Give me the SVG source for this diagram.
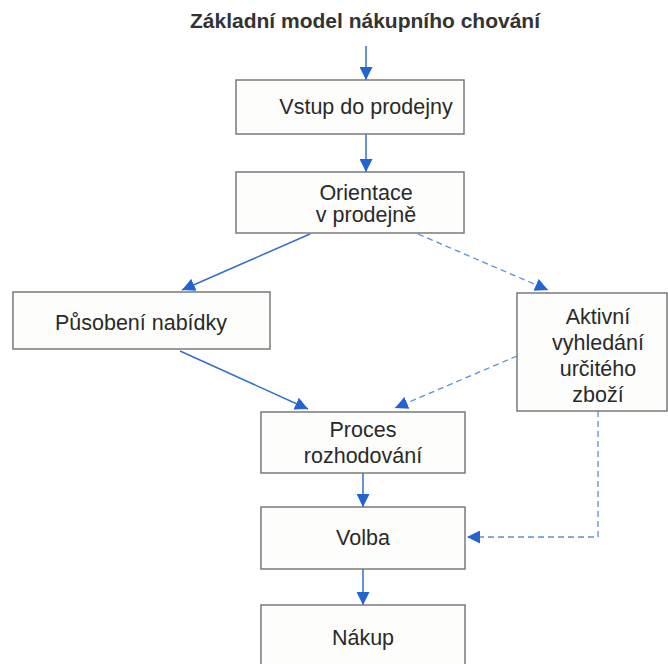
<svg xmlns="http://www.w3.org/2000/svg" width="668" height="664" viewBox="0 0 668 664">
<style>
.box{fill:#fdfdfb;stroke:#7a7a7a;stroke-width:1.5}
.t{font-family:"Liberation Sans",Arial,sans-serif;font-size:21.5px;fill:#2a2a2a;text-anchor:middle}
.title{font-family:"Liberation Sans",Arial,sans-serif;font-size:21px;font-weight:bold;fill:#333;text-anchor:middle}
.c{fill:none;stroke:#2f6fd0;stroke-width:1.5}
.d{fill:none;stroke:#5a8fdc;stroke-width:1.3;stroke-dasharray:6 4}
</style>
<defs>
<marker id="ah" viewBox="0 0 12 12" refX="12" refY="6" markerWidth="13" markerHeight="13" markerUnits="userSpaceOnUse" orient="auto">
<path d="M0,0 L12,6 L0,12 z" fill="#2464d0"/>
</marker>
</defs>
<rect width="668" height="664" fill="#ffffff"/>
<text class="title" x="365" y="28">Základní model nákupního chování</text>
<g id="connectors">
<line class="c" x1="366" y1="46" x2="366" y2="80" marker-end="url(#ah)"/>
<line class="c" x1="366" y1="134" x2="366" y2="172" marker-end="url(#ah)"/>
<line class="c" x1="310" y1="234" x2="182" y2="290" marker-end="url(#ah)"/>
<line class="d" x1="418" y1="234" x2="548" y2="290" marker-end="url(#ah)"/>
<line class="c" x1="180" y1="351" x2="308" y2="409" marker-end="url(#ah)"/>
<line class="d" x1="517" y1="356" x2="395" y2="408" marker-end="url(#ah)"/>
<line class="c" x1="363" y1="473" x2="363" y2="507" marker-end="url(#ah)"/>
<polyline class="d" points="598,411 598,537 467,537" marker-end="url(#ah)"/>
<line class="c" x1="363" y1="569" x2="363" y2="605" marker-end="url(#ah)"/>
</g>
<g id="vstup">
<rect class="box" x="236" y="80" width="228" height="54"/>
<text class="t" x="366" y="114">Vstup do prodejny</text>
</g>
<g id="orientace">
<rect class="box" x="236" y="172" width="228" height="61"/>
<text class="t" x="366" y="200">Orientace</text>
<text class="t" x="366" y="222">v prodejně</text>
</g>
<g id="pusobeni">
<rect class="box" x="13" y="292" width="257" height="57"/>
<text class="t" x="141" y="330">Působení nabídky</text>
</g>
<g id="aktivni">
<rect class="box" x="517" y="293" width="150" height="118"/>
<text class="t" x="598" y="324">Aktivní</text>
<text class="t" x="598" y="350">vyhledání</text>
<text class="t" x="598" y="376">určitého</text>
<text class="t" x="598" y="402">zboží</text>
</g>
<g id="proces">
<rect class="box" x="261" y="412" width="204" height="61"/>
<text class="t" x="363" y="437">Proces</text>
<text class="t" x="363" y="463">rozhodování</text>
</g>
<g id="volba">
<rect class="box" x="261" y="507" width="204" height="62"/>
<text class="t" x="363" y="545">Volba</text>
</g>
<g id="nakup">
<rect class="box" x="261" y="605" width="204" height="70"/>
<text class="t" x="363" y="645">Nákup</text>
</g>
</svg>
